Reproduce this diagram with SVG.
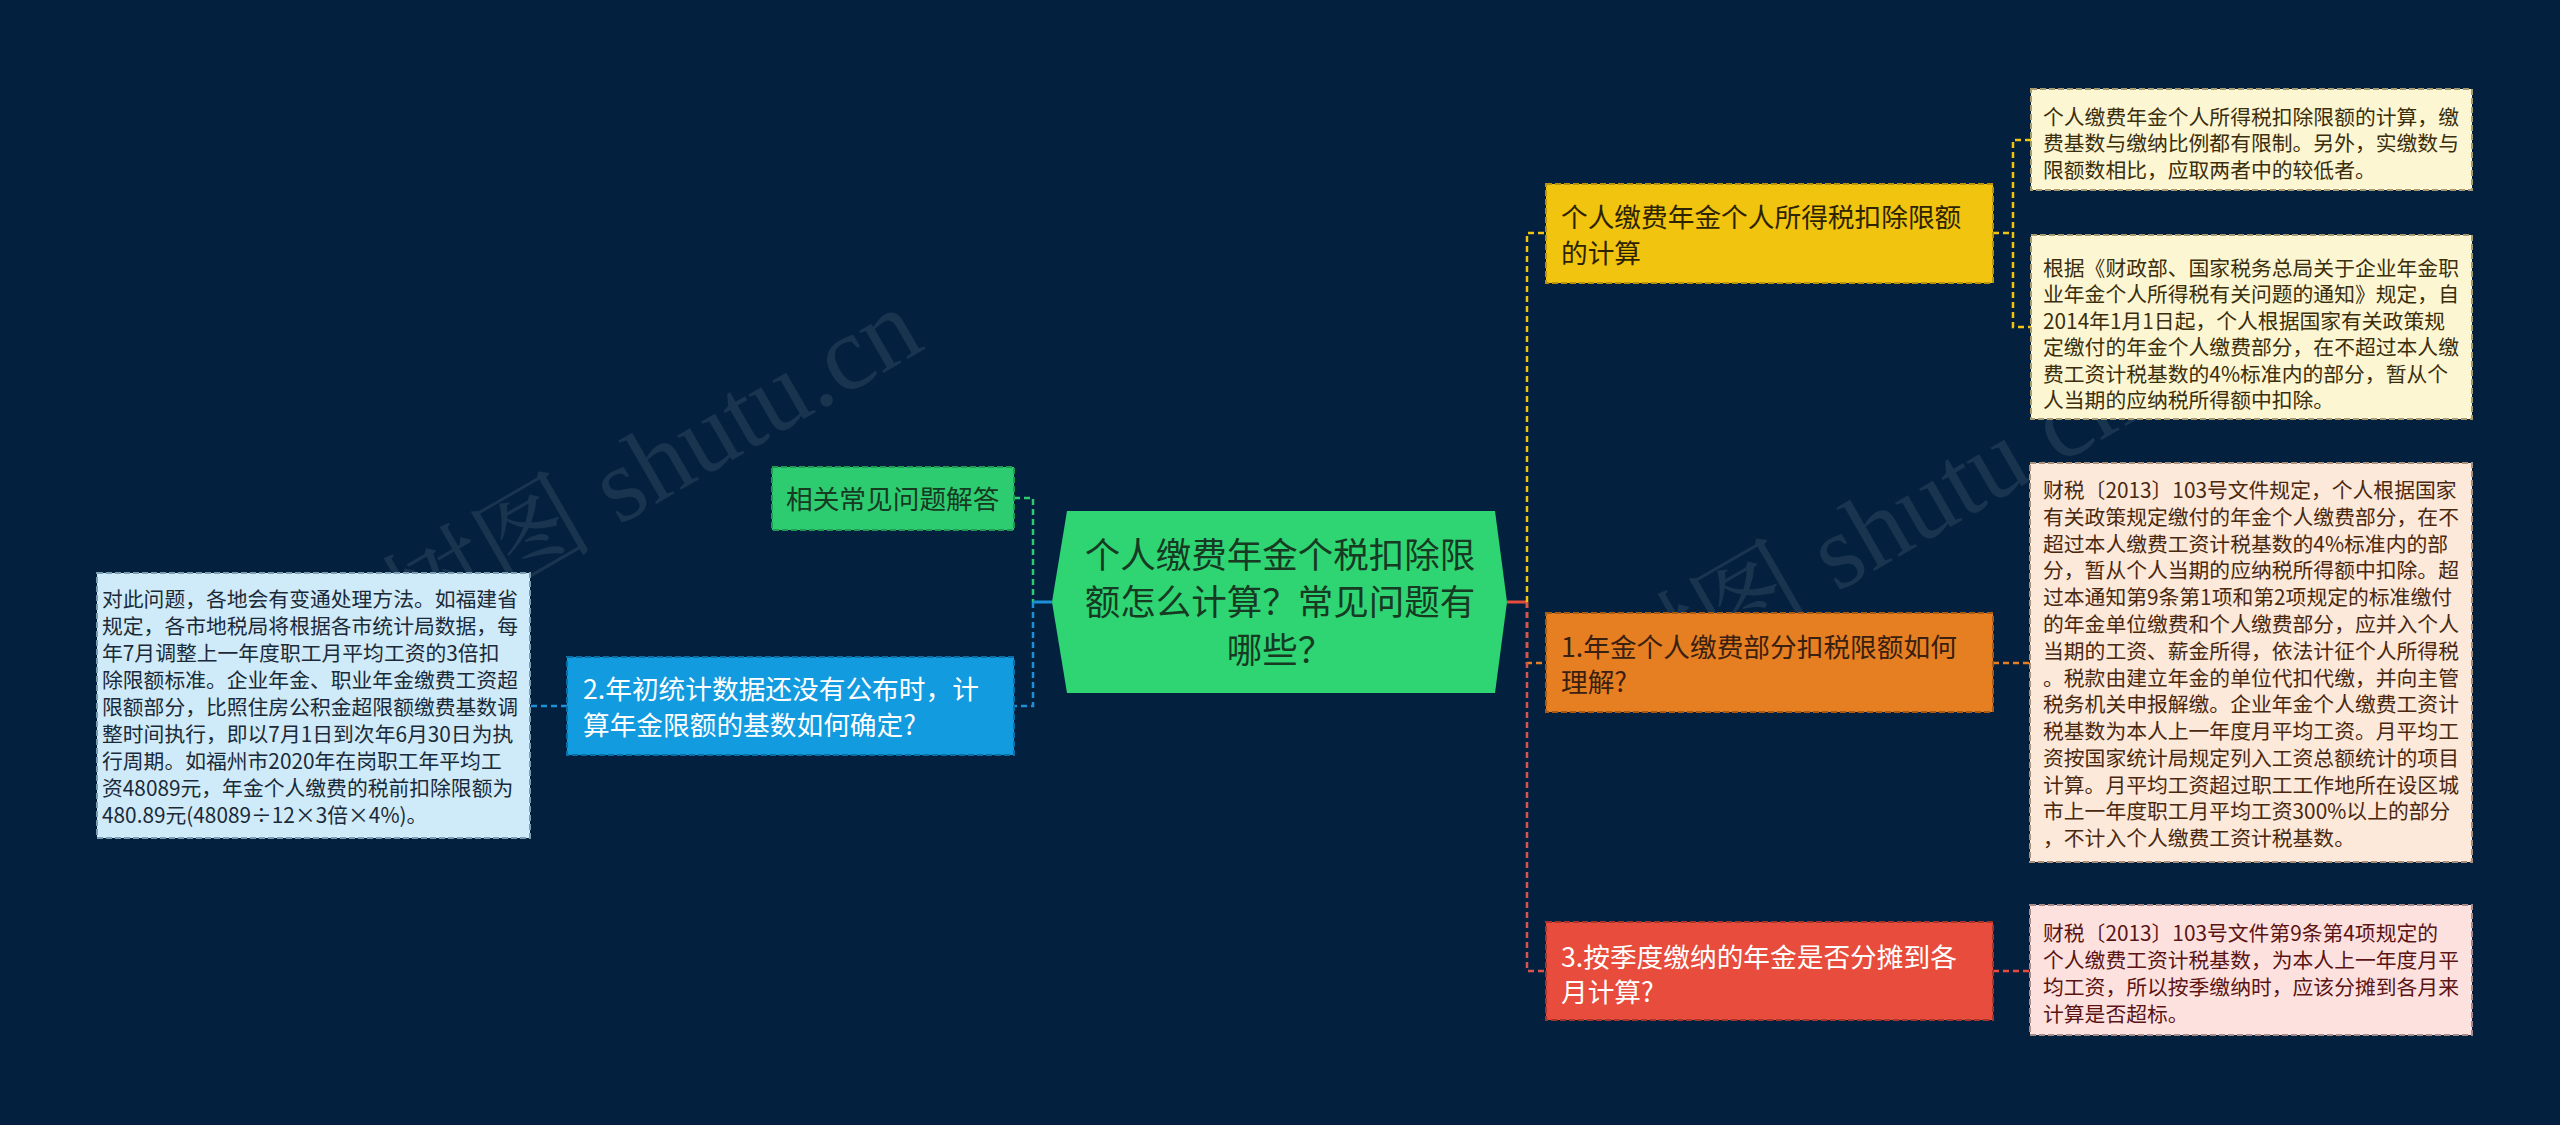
<svg xmlns="http://www.w3.org/2000/svg" width="2560" height="1125" viewBox="0 0 2560 1125">
<style>
text{font-family:"Noto Sans CJK SC","Noto Sans",sans-serif;}
.c{fill:none;stroke-width:2.5;stroke-dasharray:6 4;}
.nb{stroke-width:2;stroke-dasharray:6 3;}
.leaf{font-size:20.8px;}
.mid{font-size:26.7px;}
.wm{font-family:"Liberation Serif","Noto Serif CJK SC",serif;font-size:106px;fill:#ffffff;fill-opacity:0.085;}
</style>
<rect width="2560" height="1125" fill="#03213f"/>
<text class="wm" transform="translate(412,645) rotate(-30)">树图 shutu.cn</text>
<text class="wm" transform="translate(1630,712) rotate(-30)">树图 shutu.cn</text>
<g id="connectors">
<path class="c" stroke="#2ecc71" d="M1014,498H1033V602"/>
<path d="M1033,602H1052" stroke="#1e90d8" stroke-width="3" fill="none"/>
<path class="c" stroke="#1e90d8" d="M1033,602V706H1014"/>
<path class="c" stroke="#1e90d8" d="M567,706H530"/>
<path d="M1507,602H1527" stroke="#e74c3c" stroke-width="3" fill="none"/>
<path class="c" stroke="#f1c40f" d="M1527,602V233H1546"/>
<path class="c" stroke="#e67e22" d="M1527,602V663H1546"/>
<path class="c" stroke="#d9534f" d="M1527,602V971H1546"/>
<path class="c" stroke="#f1c40f" d="M1993,233H2013M2031,140H2013V327H2031"/>
<path class="c" stroke="#e67e22" d="M1993,663H2030"/>
<path class="c" stroke="#e74c3c" d="M1993,971H2030"/>
</g>
<g id="center">
<polygon points="1067,511 1495,511 1507,602 1495,693 1067,693 1052,602" fill="#2fd573"/>
<g font-size="35.5" fill="#163a22" text-anchor="middle">
<text x="1280" y="568">个人缴费年金个税扣除限</text>
<text x="1280" y="615">额怎么计算？常见问题有</text>
<text x="1280" y="663">哪些？</text>
</g>
</g>
<g id="n-faq">
<rect class="nb" x="772" y="467" width="242" height="63" fill="#2ecc71" stroke="#1e9a52"/>
<text class="mid" x="786" y="509" fill="#163a22">相关常见问题解答</text>
</g>
<g id="n-q2">
<rect class="nb" x="567" y="657" width="447" height="98" fill="#129bdf" stroke="#0b6fa5"/>
<g class="mid" fill="#ffffff">
<text x="583" y="699">2.年初统计数据还没有公布时，计</text>
<text x="583" y="735">算年金限额的基数如何确定?</text>
</g>
</g>
<g id="leaf-q2">
<rect class="nb" x="97" y="573" width="433" height="265" fill="#cfeaf8" stroke="#7a9db0"/>
<g class="leaf" fill="#1b2a38">
<text x="102" y="607">对此问题，各地会有变通处理方法。如福建省</text>
<text x="102" y="634">规定，各市地税局将根据各市统计局数据，每</text>
<text x="102" y="661">年7月调整上一年度职工月平均工资的3倍扣</text>
<text x="102" y="688">除限额标准。企业年金、职业年金缴费工资超</text>
<text x="102" y="715">限额部分，比照住房公积金超限额缴费基数调</text>
<text x="102" y="742">整时间执行，即以7月1日到次年6月30日为执</text>
<text x="102" y="769">行周期。如福州市2020年在岗职工年平均工</text>
<text x="102" y="796">资48089元，年金个人缴费的税前扣除限额为</text>
<text x="102" y="823">480.89元(48089÷12×3倍×4%)。</text>
</g>
</g>
<g id="n-calc">
<rect class="nb" x="1546" y="184" width="447" height="99" fill="#f1c40f" stroke="#b8920a"/>
<g class="mid" fill="#2e2300">
<text x="1561" y="227">个人缴费年金个人所得税扣除限额</text>
<text x="1561" y="263">的计算</text>
</g>
</g>
<g id="leaf-calc-1">
<rect class="nb" x="2031" y="89" width="441" height="101" fill="#fdf6d2" stroke="#a89a70"/>
<g class="leaf" fill="#3a2e0c">
<text x="2043" y="125">个人缴费年金个人所得税扣除限额的计算，缴</text>
<text x="2043" y="151">费基数与缴纳比例都有限制。另外，实缴数与</text>
<text x="2043" y="178">限额数相比，应取两者中的较低者。</text>
</g>
</g>
<g id="leaf-calc-2">
<rect class="nb" x="2031" y="235" width="441" height="184" fill="#fdf6d2" stroke="#a89a70"/>
<g class="leaf" fill="#3a2e0c">
<text x="2043" y="276">根据《财政部、国家税务总局关于企业年金职</text>
<text x="2043" y="302">业年金个人所得税有关问题的通知》规定，自</text>
<text x="2043" y="329">2014年1月1日起，个人根据国家有关政策规</text>
<text x="2043" y="355">定缴付的年金个人缴费部分，在不超过本人缴</text>
<text x="2043" y="382">费工资计税基数的4%标准内的部分，暂从个</text>
<text x="2043" y="408">人当期的应纳税所得额中扣除。</text>
</g>
</g>
<g id="n-q1">
<rect class="nb" x="1546" y="613" width="447" height="99" fill="#e67e22" stroke="#a85a14"/>
<g class="mid" fill="#3a2010">
<text x="1561" y="657">1.年金个人缴费部分扣税限额如何</text>
<text x="1561" y="692">理解?</text>
</g>
</g>
<g id="leaf-q1">
<rect class="nb" x="2030" y="463" width="442" height="399" fill="#fce9d9" stroke="#a8907a"/>
<g class="leaf" fill="#4a2810">
<text x="2043" y="498">财税〔2013〕103号文件规定，个人根据国家</text>
<text x="2043" y="525">有关政策规定缴付的年金个人缴费部分，在不</text>
<text x="2043" y="552">超过本人缴费工资计税基数的4%标准内的部</text>
<text x="2043" y="578">分，暂从个人当期的应纳税所得额中扣除。超</text>
<text x="2043" y="605">过本通知第9条第1项和第2项规定的标准缴付</text>
<text x="2043" y="632">的年金单位缴费和个人缴费部分，应并入个人</text>
<text x="2043" y="659">当期的工资、薪金所得，依法计征个人所得税</text>
<text x="2043" y="686">。税款由建立年金的单位代扣代缴，并向主管</text>
<text x="2043" y="712">税务机关申报解缴。企业年金个人缴费工资计</text>
<text x="2043" y="739">税基数为本人上一年度月平均工资。月平均工</text>
<text x="2043" y="766">资按国家统计局规定列入工资总额统计的项目</text>
<text x="2043" y="793">计算。月平均工资超过职工工作地所在设区城</text>
<text x="2043" y="819">市上一年度职工月平均工资300%以上的部分</text>
<text x="2043" y="846">，不计入个人缴费工资计税基数。</text>
</g>
</g>
<g id="n-q3">
<rect class="nb" x="1546" y="922" width="447" height="98" fill="#e74c3c" stroke="#a8332a"/>
<g class="mid" fill="#ffffff">
<text x="1561" y="967">3.按季度缴纳的年金是否分摊到各</text>
<text x="1561" y="1002">月计算?</text>
</g>
</g>
<g id="leaf-q3">
<rect class="nb" x="2030" y="905" width="442" height="130" fill="#fde1df" stroke="#a88a88"/>
<g class="leaf" fill="#5a1414">
<text x="2043" y="941">财税〔2013〕103号文件第9条第4项规定的</text>
<text x="2043" y="968">个人缴费工资计税基数，为本人上一年度月平</text>
<text x="2043" y="995">均工资，所以按季缴纳时，应该分摊到各月来</text>
<text x="2043" y="1022">计算是否超标。</text>
</g>
</g>
</svg>
